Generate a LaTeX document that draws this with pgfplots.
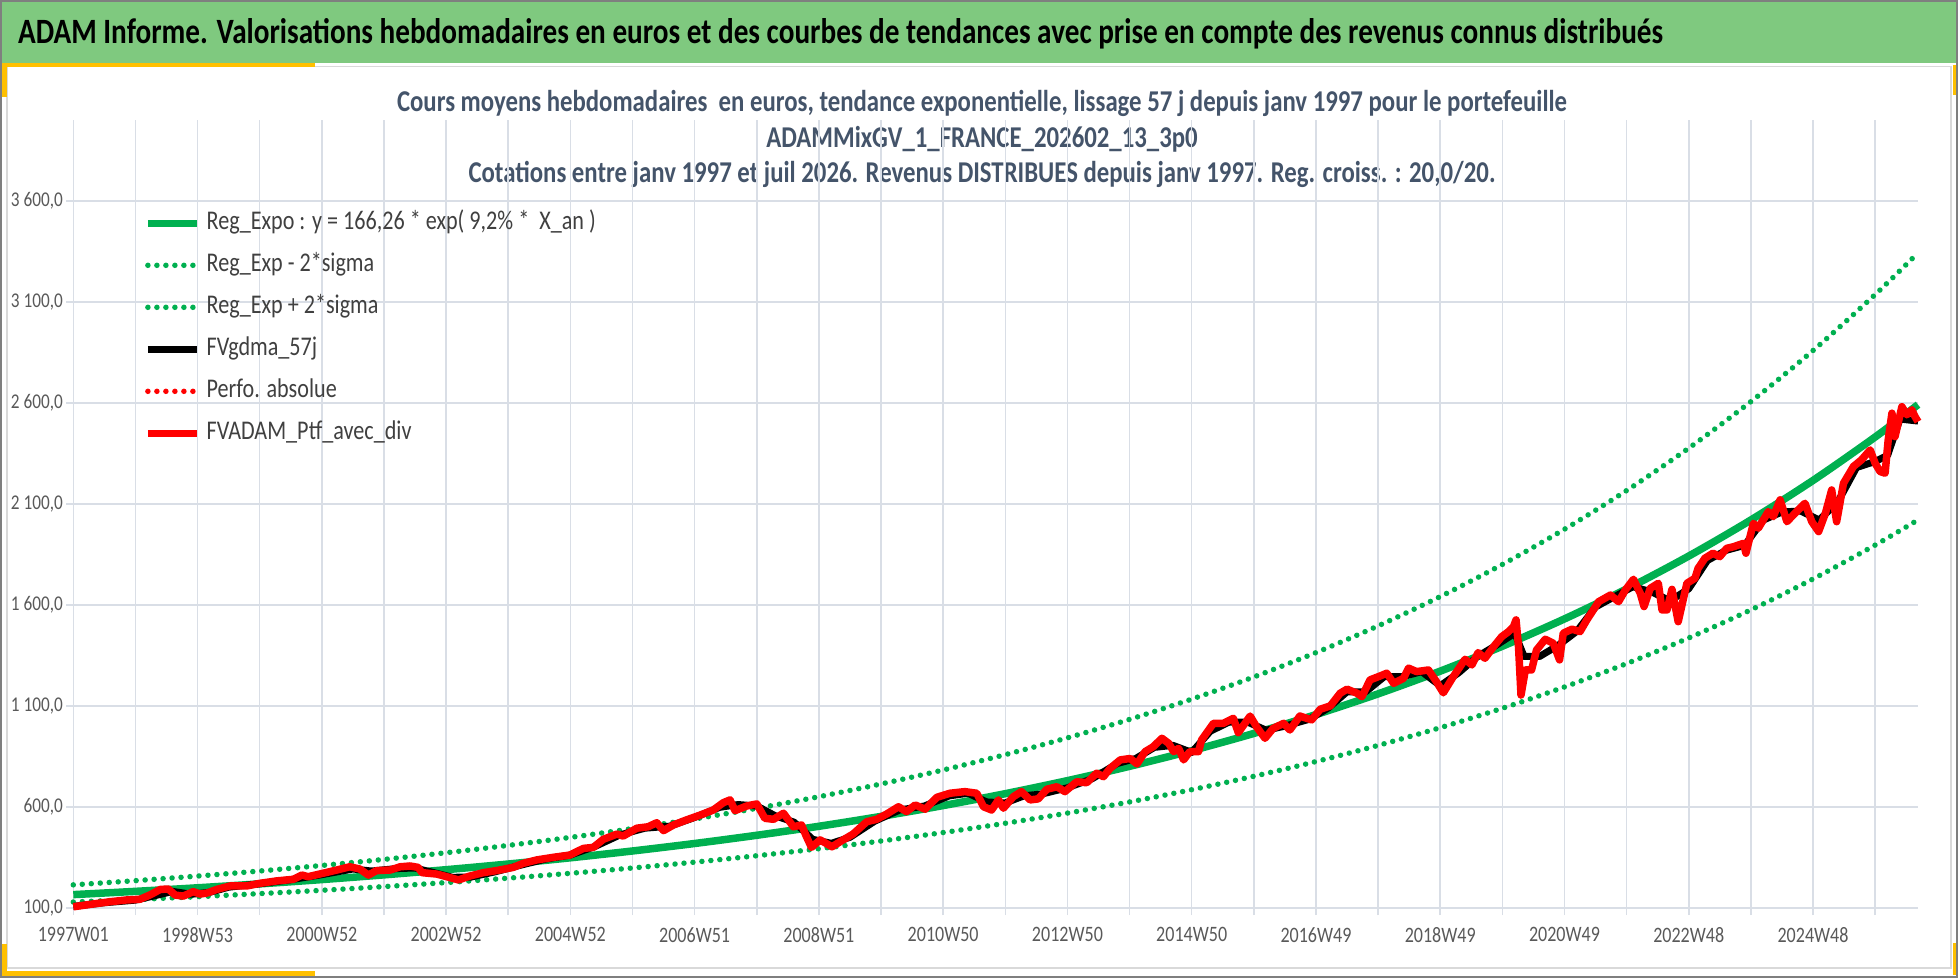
\documentclass[border=0pt]{standalone}
\usepackage{fontspec}
\setmainfont{Carlito}[FakeStretch=0.82]
\usepackage{graphicx}
\usepackage{pgfplots}
\usepackage{pgfplotstable}
\pgfplotsset{compat=1.18}
\definecolor{hdr}{HTML}{7FC97F}
\definecolor{gold}{HTML}{FFC000}
\definecolor{gridc}{HTML}{D9DEE6}
\definecolor{ticktext}{HTML}{595959}
\definecolor{subt}{HTML}{44546A}
\definecolor{legtext}{HTML}{404040}
\definecolor{xlgreen}{HTML}{00B050}
\definecolor{framegray}{HTML}{7F7F7F}
\definecolor{innergray}{HTML}{D9D9D9}

\pgfplotstableread{
u t lo hi
0 166.26 129.7 214.5
1 182.37 142.2 235.3
2 200.05 156.0 258.1
3 219.43 171.2 283.1
4 240.70 187.7 310.5
5 264.03 205.9 340.6
6 289.61 225.9 373.6
7 317.68 247.8 409.8
8 348.47 271.8 449.5
9 382.24 298.1 493.1
10 419.29 327.0 540.9
11 459.92 358.7 593.3
12 504.49 393.5 650.8
13 553.39 431.6 713.9
14 607.02 473.5 783.1
15 665.85 519.4 859.0
16 730.37 569.7 942.2
17 801.15 624.9 1033.5
18 878.80 685.5 1133.7
19 963.97 751.9 1243.5
20 1057.39 824.8 1364.0
21 1159.87 904.7 1496.2
22 1272.27 992.4 1641.2
23 1395.58 1088.6 1800.3
24 1530.81 1194.0 1974.7
25 1679.21 1309.8 2166.2
26 1841.93 1436.7 2376.1
27 2020.46 1575.6 2606.4
28 2216.21 1728.6 2858.9
29 2431.03 1896.2 3136.0
29.69 2591.16 2021.1 3342.6
}\trendtab

\pgfplotstableread{
u v
0 108
0.5 126
1 139
1.3 160
1.6 182
1.9 168
2.2 178
2.5 203
3 220
3.5 240
4 265
4.5 293
4.8 283
5.2 295
5.5 298
5.8 275
6.1 252
6.4 253
6.8 280
7.2 312
7.6 342
8 362
8.4 405
8.8 462
9.2 495
9.6 505
10 548
10.4 598
10.7 612
11 605
11.3 556
11.6 525
11.9 440
12.2 420
12.5 450
12.9 530
13.3 585
13.7 605
14.1 655
14.4 668
14.7 625
15.0 620
15.3 655
15.6 665
16.0 695
16.4 740
16.8 815
17.1 840
17.4 895
17.7 905
18.0 870
18.3 975
18.6 1020
18.9 1020
19.2 980
19.5 1000
19.9 1035
20.2 1090
20.5 1170
20.8 1170
21.1 1245
21.4 1245
21.7 1270
22.0 1200
22.3 1265
22.6 1345
22.9 1400
23.2 1460
23.35 1345
23.6 1345
23.9 1400
24.2 1470
24.5 1590
24.8 1640
25.1 1690
25.4 1665
25.7 1620
26.0 1680
26.3 1820
26.6 1870
26.9 1895
27.2 2020
27.5 2060
27.8 2065
28.1 2020
28.4 2110
28.7 2280
29.0 2310
29.2 2340
29.4 2520
29.69 2510
}\blacktab

\pgfplotstableread{
u v
0 106
0.32 120
0.59 131
0.86 140
1.07 143
1.23 164
1.40 192
1.53 194
1.64 164
1.77 159
1.93 181
2.04 169
2.15 174
2.31 192
2.52 209
2.79 209
3.00 222
3.27 234
3.54 242
3.68 263
3.78 255
4.02 272
4.24 288
4.45 304
4.61 293
4.75 263
4.88 285
5.10 288
5.26 304
5.42 308
5.55 301
5.61 275
5.85 268
6.01 255
6.20 239
6.38 258
6.60 275
6.81 285
7.08 301
7.24 321
7.46 338
7.73 351
7.99 362
8.21 395
8.37 400
8.53 440
8.75 466
8.85 456
9.07 495
9.25 502
9.39 522
9.50 483
9.66 511
9.87 536
10.09 560
10.30 585
10.46 621
10.57 635
10.65 582
10.84 605
11.00 615
11.13 544
11.27 539
11.43 569
11.59 502
11.72 511
11.80 453
11.88 400
12.02 437
12.21 403
12.39 437
12.55 466
12.77 527
12.93 539
13.09 565
13.28 601
13.41 577
13.55 610
13.71 589
13.90 648
14.11 668
14.35 676
14.54 668
14.65 601
14.78 585
14.89 635
14.97 594
15.13 651
15.26 676
15.40 635
15.53 640
15.67 688
15.83 700
15.96 676
16.15 725
16.31 720
16.47 767
16.58 750
16.69 792
16.85 833
17.01 840
17.12 813
17.25 874
17.38 898
17.52 940
17.63 915
17.71 874
17.79 890
17.87 833
17.97 874
18.11 874
18.16 932
18.35 1014
18.51 1014
18.67 1039
18.75 968
18.94 1050
19.05 994
19.18 940
19.31 989
19.48 1014
19.58 981
19.74 1050
19.93 1031
20.07 1084
20.23 1100
20.39 1163
20.50 1183
20.66 1163
20.74 1146
20.87 1229
21.03 1248
21.14 1262
21.25 1212
21.41 1237
21.49 1287
21.62 1270
21.81 1278
21.92 1229
22.05 1165
22.21 1245
22.40 1331
22.51 1303
22.61 1364
22.72 1336
22.86 1394
22.99 1443
23.10 1468
23.18 1493
23.22 1526
23.26 1394
23.30 1154
23.37 1278
23.47 1278
23.55 1377
23.69 1430
23.82 1410
23.92 1328
23.98 1460
24.12 1480
24.25 1468
24.36 1526
24.55 1616
24.74 1649
24.87 1616
24.98 1674
25.11 1727
25.22 1657
25.28 1592
25.38 1682
25.51 1707
25.57 1575
25.65 1575
25.73 1677
25.83 1517
25.97 1707
26.10 1732
26.15 1781
26.26 1831
26.39 1856
26.50 1839
26.61 1880
26.72 1888
26.88 1905
26.92 1856
27.04 2004
27.12 1980
27.28 2062
27.36 2037
27.47 2120
27.58 2012
27.71 2054
27.87 2103
27.98 2012
28.09 1963
28.20 2054
28.30 2169
28.38 2012
28.49 2202
28.65 2285
28.78 2318
28.92 2367
29.00 2301
29.08 2260
29.16 2252
29.21 2417
29.27 2549
29.32 2433
29.43 2581
29.51 2541
29.59 2566
29.64 2533
29.69 2507
}\redtab

\newlength\Lw
\newcommand\subfont{\fontsize{26}{30}\selectfont\bfseries}

\begin{document}%
\settowidth\Lw{\subfont Cours moyens hebdomadaires\ \ en euros, tendance exponentielle, lissage 57 j depuis janv 1997 pour le portefeuille}%
\pgfmathsetmacro\subsc{1170/\Lw}%
\begin{tikzpicture}[x=1pt,y=1pt]
\useasboundingbox (0,0) rectangle (1958,978);
\fill[white] (0,0) rectangle (1958,978);
% header band
\fill[hdr] (0,914.5) rectangle (1958,978);
% inner light frame
\draw[innergray, line width=1.5pt] (7,911.5) rectangle (1951,10);
% gold corners
\fill[gold] (0,910.5) rectangle (315,914.5);
\fill[gold] (0,881) rectangle (7,914.5);
\fill[gold] (0,0) rectangle (7,34);
\fill[gold] (0,2) rectangle (315,7);
\fill[gold] (1953,883) rectangle (1958,913);
\fill[gold] (1953,3) rectangle (1958,35);
% outer frame
\draw[framegray, line width=2pt] (1,1) rectangle (1957,977);

% title
\node[anchor=base west, inner sep=0pt] at (18,934)
  {\resizebox{1645pt}{!}{\fontsize{30}{36}\selectfont\bfseries ADAM Informe. Valorisations hebdomadaires en euros et des courbes de tendances avec prise en compte des revenus connus distribués}};

% subtitle
\node[anchor=base, inner sep=0pt, text=subt, scale=\subsc] at (982,866.3)
  {\subfont Cours moyens hebdomadaires\ \ en euros, tendance exponentielle, lissage 57 j depuis janv 1997 pour le portefeuille};
\node[anchor=base, inner sep=0pt, text=subt, scale=\subsc] at (982,830.6)
  {\subfont ADAMMixGV\_1\_FRANCE\_202602\_13\_3p0};
\node[anchor=base, inner sep=0pt, text=subt, scale=\subsc] at (982,795)
  {\subfont Cotations entre janv 1997 et juil 2026. Revenus DISTRIBUES depuis janv 1997. Reg. croiss. : 20,0/20.};

\begin{axis}[
  at={(73.3pt,70pt)}, anchor=south west, scale only axis,
  width=1844.7pt, height=788pt,
  xmin=0, xmax=29.69, ymin=100, ymax=4000,
  clip=false,
  axis line style={draw=none},
  xtick={0,2,...,28},
  xticklabels={1997W01,1998W53,2000W52,2002W52,2004W52,2006W51,2008W51,2010W50,2012W50,2014W50,2016W49,2018W49,2020W49,2022W48,2024W48},
  minor xtick={1,3,...,29},
  ytick={100,600,...,3600},
  yticklabels={{100,0},{600,0},{1 100,0},{1 600,0},{2 100,0},{2 600,0},{3 100,0},{3 600,0}},
  minor ytick={},
  grid=both,
  major grid style={draw=gridc, line width=1.5pt},
  minor grid style={draw=gridc, line width=1.5pt},
  tick align=outside, major tick length=7pt, minor tick length=7pt,
  every tick/.style={draw=gridc, line width=1.5pt},
  tick pos=left,
  xticklabel style={font=\fontsize{22}{26}\selectfont, text=ticktext, yshift=-9pt},
  yticklabel style={font=\fontsize{21}{25}\selectfont, text=ticktext},
  legend style={at={(rel axis cs:0.0383,0.885)}, anchor=north west, draw=none, fill=none,
     font=\fontsize{27}{31}\selectfont, text=legtext, row sep=17pt, inner sep=0pt,
     nodes={inner sep=0pt, text height=19pt, text depth=6pt},
     /tikz/every odd column/.style={column sep=6pt}},
  legend cell align=left,
  legend image code/.code={\draw[#1] (0pt,0pt) -- (49pt,0pt);},
]
\addplot[xlgreen, line width=7.5pt, smooth] table[x=u,y=t] {\trendtab};
\addlegendentry{Reg\_Expo : y = 166,26 * exp( 9,2\% *\ \ X\_an )}
\addplot[xlgreen, line width=5.5pt, line cap=round, dash pattern=on 0pt off 9pt, smooth] table[x=u,y=lo] {\trendtab};
\addlegendentry{Reg\_Exp - 2*sigma}
\addplot[xlgreen, line width=5.5pt, line cap=round, dash pattern=on 0pt off 9pt, smooth] table[x=u,y=hi] {\trendtab};
\addlegendentry{Reg\_Exp + 2*sigma}
\addplot[black, line width=7pt, line join=round] table[x=u,y=v] {\blacktab};
\addlegendentry{FVgdma\_57j}
\addlegendimage{red, line width=5.5pt, line cap=round, dash pattern=on 0pt off 9pt}
\addlegendentry{Perfo. absolue}
\addplot[red, line width=7.5pt, line join=round] table[x=u,y=v] {\redtab};
\addlegendentry{FVADAM\_Ptf\_avec\_div}
\end{axis}
\end{tikzpicture}%
\end{document}
